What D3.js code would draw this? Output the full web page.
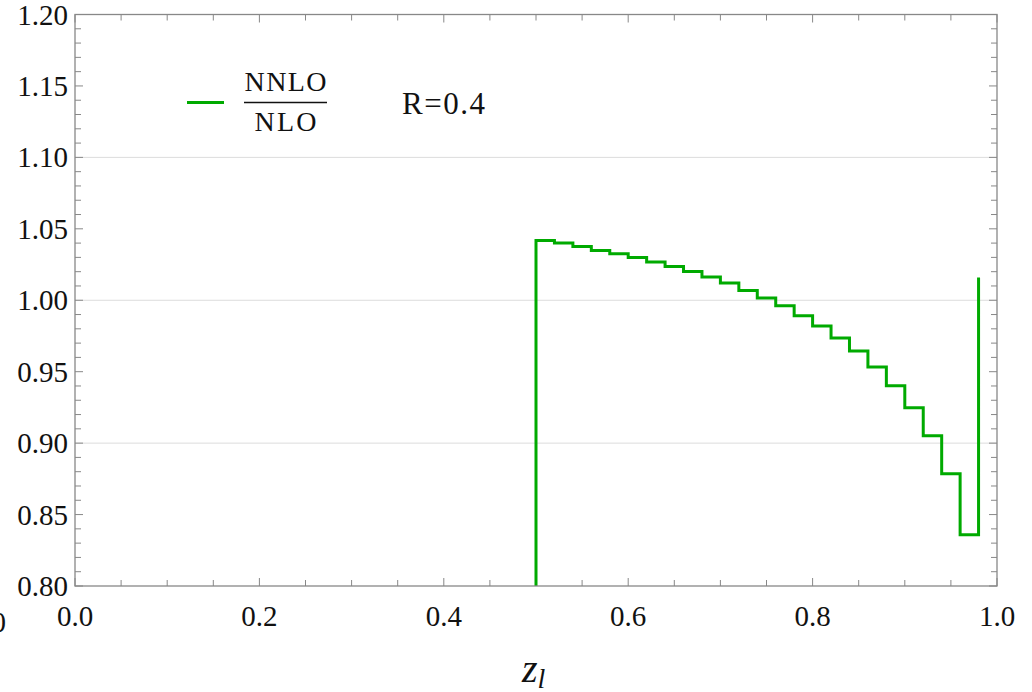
<!DOCTYPE html>
<html>
<head>
<meta charset="utf-8">
<script src="https://cdn.jsdelivr.net/npm/d3@7"></script>
<style>
  body { margin: 0; background: #fff; }
  svg { display: block; }
</style>
</head>
<body>
<script>
// bin edges (lower edge of each bin) and NNLO/NLO ratio per bin
var binEdges = [0.50, 0.52, 0.54, 0.56, 0.58, 0.60, 0.62, 0.64, 0.66, 0.68, 0.70, 0.72,
                0.74, 0.76, 0.78, 0.80, 0.82, 0.84, 0.86, 0.88, 0.90, 0.92, 0.94, 0.96];
var ratio = [1.0418, 1.0400, 1.0376, 1.0348, 1.0325, 1.0300, 1.0267, 1.0236, 1.0202, 1.0162, 1.0120, 1.0069,
             1.0015, 0.9961, 0.9892, 0.9819, 0.9736, 0.9645, 0.9533, 0.9402, 0.9248, 0.9052, 0.8785, 0.8358];
var binWidth = 0.02;
var lastEdgeValue = 1.016;   // value reached by the final vertical at z=0.98
var belowValue = 0.0;        // value below the first bin (off the plot)

var xTickLabels = ['0.0', '0.2', '0.4', '0.6', '0.8', '1.0'];
var yTickLabels = ['0.80', '0.85', '0.90', '0.95', '1.00', '1.05', '1.10', '1.15', '1.20'];
var gridValues = [0.90, 1.00, 1.10];

var W = 1032, H = 692;
var pLeft = 75, pRight = 997, pTop = 14.5, pBottom = 586;
var serif = '"Liberation Serif", "Times New Roman", serif';
var green = '#00aa00';
var frameColor = '#888';

var svg = d3.select('body').append('svg')
  .attr('width', W)
  .attr('height', H);

var x = d3.scaleLinear().domain([0, 1]).range([pLeft, pRight]);
var y = d3.scaleLinear().domain([0.8, 1.2]).range([pBottom, pTop]);

// grid lines
svg.append('g').selectAll('line')
  .data(gridValues)
  .enter()
  .append('line')
    .attr('x1', pLeft)
    .attr('x2', pRight)
    .attr('y1', function(d) { return y(d); })
    .attr('y2', function(d) { return y(d); })
    .attr('stroke', '#dcdcdc')
    .attr('stroke-width', 1);

// ticks: x every 0.05, y every 0.01, all pointing inward
var xTicks = d3.range(0, 21).map(function(i) { return i * 0.05; });
var yTicks = d3.range(0, 41).map(function(i) { return 0.8 + i * 0.01; });

function isMajorX(d) { return Math.abs(d * 5 - Math.round(d * 5)) < 1e-6; }
function isMajorY(d) { return Math.abs(d * 20 - Math.round(d * 20)) < 1e-6; }

var ticks = svg.append('g')
  .attr('stroke', frameColor)
  .attr('stroke-width', 1);

ticks.selectAll('.xb').data(xTicks).enter().append('line')
  .attr('x1', function(d) { return x(d); })
  .attr('x2', function(d) { return x(d); })
  .attr('y1', pBottom)
  .attr('y2', function(d) { return pBottom - (isMajorX(d) ? 8 : 6); });

ticks.selectAll('.xt').data(xTicks).enter().append('line')
  .attr('x1', function(d) { return x(d); })
  .attr('x2', function(d) { return x(d); })
  .attr('y1', pTop)
  .attr('y2', function(d) { return pTop + (isMajorX(d) ? 8 : 6); });

ticks.selectAll('.yl').data(yTicks).enter().append('line')
  .attr('y1', function(d) { return y(d); })
  .attr('y2', function(d) { return y(d); })
  .attr('x1', pLeft)
  .attr('x2', function(d) { return pLeft + (isMajorY(d) ? 8 : 6); });

ticks.selectAll('.yr').data(yTicks).enter().append('line')
  .attr('y1', function(d) { return y(d); })
  .attr('y2', function(d) { return y(d); })
  .attr('x1', pRight)
  .attr('x2', function(d) { return pRight - (isMajorY(d) ? 8 : 6); });

// step curve
svg.append('clipPath').attr('id', 'plotClip')
  .append('rect')
    .attr('x', pLeft)
    .attr('y', pTop)
    .attr('width', pRight - pLeft)
    .attr('height', pBottom - pTop);

var pts = [[binEdges[0], belowValue]];
binEdges.forEach(function(e, i) { pts.push([e, ratio[i]]); });
var lastEdge = binEdges[binEdges.length - 1] + binWidth;
pts.push([lastEdge, ratio[ratio.length - 1]]);
pts.push([lastEdge, lastEdgeValue]);

var line = d3.line()
  .x(function(d) { return x(d[0]); })
  .y(function(d) { return y(d[1]); })
  .curve(d3.curveStepAfter);

svg.append('path')
  .datum(pts)
  .attr('clip-path', 'url(#plotClip)')
  .attr('d', line)
  .attr('fill', 'none')
  .attr('stroke', green)
  .attr('stroke-width', 3)
  .attr('stroke-linejoin', 'miter');

// frame
svg.append('rect')
  .attr('x', pLeft)
  .attr('y', pTop)
  .attr('width', pRight - pLeft)
  .attr('height', pBottom - pTop)
  .attr('fill', 'none')
  .attr('stroke', frameColor)
  .attr('stroke-width', 1.3);

// tick labels
var labels = svg.append('g')
  .style('font-family', serif)
  .style('font-size', '29px')
  .attr('fill', '#111');

labels.selectAll('.ylab')
  .data(yTickLabels)
  .enter()
  .append('text')
    .text(function(d) { return d; })
    .attr('x', 68)
    .attr('y', function(d) { return y(+d) + 10; })
    .attr('text-anchor', 'end');

labels.selectAll('.xlab')
  .data(xTickLabels)
  .enter()
  .append('text')
    .text(function(d) { return d; })
    .attr('x', function(d) { return x(+d); })
    .attr('y', 626)
    .attr('text-anchor', 'middle');

// stray clipped glyph at the left edge
labels.append('text')
  .text('0')
  .attr('x', 6)
  .attr('y', 632)
  .attr('text-anchor', 'end');

// axis label z_l
var xl = svg.append('text')
  .attr('x', 522)
  .attr('y', 682)
  .style('font-family', serif)
  .style('font-style', 'italic')
  .style('font-size', '40px')
  .attr('fill', '#111');
xl.append('tspan').text('z');
xl.append('tspan').text('l').attr('dy', 6).style('font-size', '28px');

// legend
svg.append('line')
  .attr('x1', 187).attr('x2', 224)
  .attr('y1', 102.5).attr('y2', 102.5)
  .attr('stroke', green)
  .attr('stroke-width', 3);

var legend = svg.append('g')
  .style('font-family', serif)
  .style('font-size', '28px')
  .attr('fill', '#111');

legend.append('text').text('NNLO')
  .attr('x', 285.5).attr('y', 90.5)
  .attr('text-anchor', 'middle')
  .attr('textLength', 82);

legend.append('line')
  .attr('x1', 244).attr('x2', 327)
  .attr('y1', 102.5).attr('y2', 102.5)
  .attr('stroke', '#111')
  .attr('stroke-width', 1.3);

legend.append('text').text('NLO')
  .attr('x', 285.5).attr('y', 131)
  .attr('text-anchor', 'middle')
  .attr('textLength', 62);

legend.append('text').text('R=0.4')
  .attr('x', 402).attr('y', 114)
  .style('font-size', '31px')
  .attr('textLength', 83);
</script>
</body>
</html>
